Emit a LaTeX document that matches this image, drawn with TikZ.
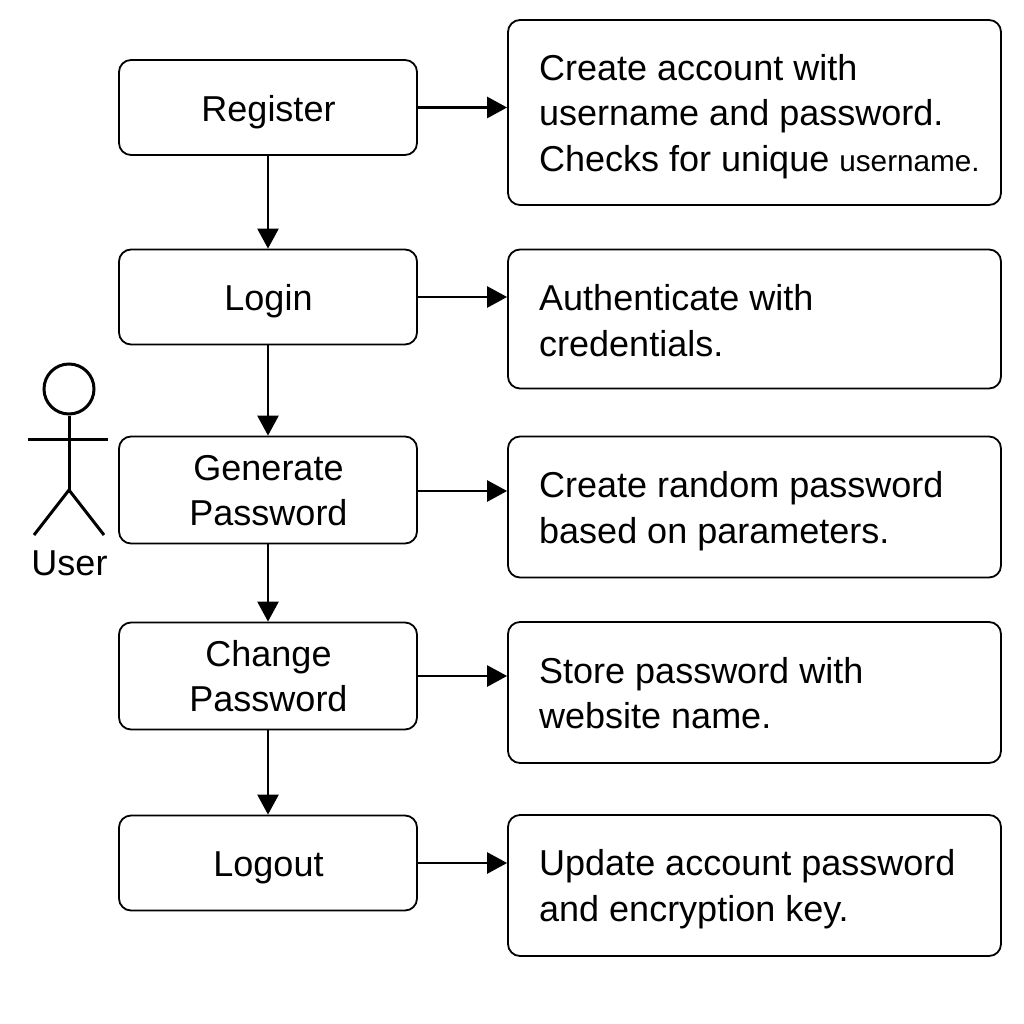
\documentclass[tikz,border=0pt]{standalone}
\usepackage{fontspec}
\setmainfont{Liberation Sans}
\usetikzlibrary{arrows.meta}
\newcommand{\lowered}[2]{\raisebox{-#1}[\height][\depth]{#2}}
\begin{document}
\begin{tikzpicture}[x=1pt,y=-1pt,
 stepbox/.style={draw=black,line width=1.8pt,rounded corners=12pt,minimum width=298pt,align=center,font=\fontsize{36}{45}\selectfont,inner sep=0pt,anchor=center},
 infobox/.style={draw=black,line width=1.8pt,rounded corners=12pt,minimum width=493pt,inner sep=0pt,anchor=center},
 txt/.style={anchor=west,align=left,font=\fontsize{36}{45.7}\selectfont,inner sep=0pt},
 arr/.style={draw=black,line width=2.6pt,-{Triangle[length=20pt,width=21pt]}},
 fig/.style={draw=black,line width=3pt}]
\useasboundingbox (0,0) rectangle (1024,1024);
\fill[white] (0,0) rectangle (1024,1024);
\node[stepbox,minimum height=95pt] (s1) at (268,107.5) {\lowered{4.5pt}{\hspace{1pt}Register}};
\node[stepbox,minimum height=95pt] (s2) at (268,297) {\lowered{4.5pt}{\hspace{1pt}Login}};
\node[stepbox,minimum height=107pt] (s3) at (268,490) {\lowered{1pt}{\hspace{1pt}Generate}\\\lowered{1pt}{\hspace{1pt}Password}};
\node[stepbox,minimum height=107pt] (s4) at (268,676) {\hspace{1pt}Change\\\hspace{1pt}Password};
\node[stepbox,minimum height=95pt] (s5) at (268,863) {\lowered{4.5pt}{\hspace{1pt}Logout}};
\node[infobox,minimum height=185pt] (i1) at (754.5,112.5) {};
\node[infobox,minimum height=139pt] (i2) at (754.5,319) {};
\node[infobox,minimum height=141pt] (i3) at (754.5,507) {};
\node[infobox,minimum height=141pt] (i4) at (754.5,692.5) {};
\node[infobox,minimum height=141pt] (i5) at (754.5,885.5) {};
\node[txt] (t1) at (539,116.5) {Create account with\\username and password.\\Checks for unique {\fontsize{29.7}{45.7}\selectfont username.}};
\node[txt] (t2) at (539,320.5) {Authenticate with\\credentials.};
\node[txt] (t3) at (539,511) {Create random password\\based on parameters.};
\node[txt] (t4) at (539,693) {Store password with\\website name.};
\node[txt] (t5) at (539,889) {Update account password\\and encryption key.};
\draw[arr] (s1.east) -- (s1.east-|i1.west);
\draw[arr] (s2.east) -- (s2.east-|i2.west);
\draw[arr] ([yshift=-1pt]s3.east) -- ([yshift=-1pt]s3.east-|i3.west);
\draw[arr] (s4.east) -- (s4.east-|i4.west);
\draw[arr] (s5.east) -- (s5.east-|i5.west);
\draw[arr] (s1) -- (s2);
\draw[arr] (s2) -- (s3);
\draw[arr] (s3) -- (s4);
\draw[arr] (s4) -- (s5);
\coordinate (hip) at (69,490);
\coordinate (la) at (34,535);
\coordinate (ra) at (104,535);
\coordinate (hl) at (28,439);
\coordinate (hr) at (108,439);
\node[draw=black,line width=3pt,circle,minimum size=50pt,inner sep=0pt] (head) at (69,389) {};
\draw[fig] (head.south) -- (hip);
\draw[fig] (hl) -- (hr);
\draw[fig] (la) -- (hip) -- (ra);
\node[font=\fontsize{36}{40}\selectfont,inner sep=0pt] (user) at (69.5,563) {User};
\end{tikzpicture}
\end{document}
